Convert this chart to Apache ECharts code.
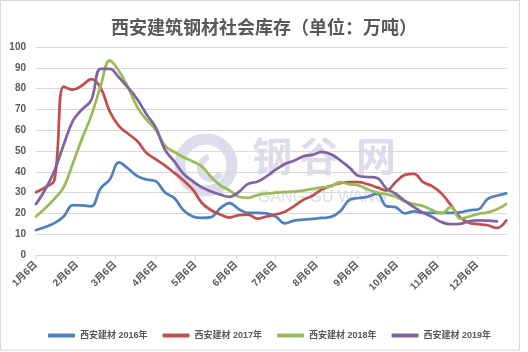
<!DOCTYPE html>
<html><head><meta charset="utf-8">
<script src="https://cdn.jsdelivr.net/npm/echarts@6/dist/echarts.min.js"></script>
<style>html,body{margin:0;padding:0;background:#fff}#c{width:528px;height:352px}</style>
</head><body><div id="c"></div>
<script>
// x positions: day of year of each weekly observation
const days = [6,13,20,27,34,41,48,55,62,69,76,83,90,97,104,111,118,125,132,139,146,153,160,167,174,181,188,195,202,209,216,223,230,237,244,251,258,265,272,279,286,293,300,307,314,321,328,335,342,349,356,363];
// tick label days and labels
const tickDays = [6,37,66,97,127,158,188,219,250,280,311,341];
const tickLabels = ['1月6日','2月6日','3月6日','4月6日','5月6日','6月6日','7月6日','8月6日','9月6日','10月6日','11月6日','12月6日'];
const seriesNames = ['西安建材 2016年','西安建材 2017年','西安建材 2018年','西安建材 2019年'];
const s2016 = [12,13.5,15.3,18.5,24,23.8,23.4,32,36.3,44.5,41.5,37.9,36.3,35.5,30,27.4,21.5,18.5,17.8,18.2,22.5,25,22,20.3,20.3,20,18.5,15.2,16.5,17,17.4,17.8,18.3,21,26.5,27.4,28,29.5,23.5,23,20,21,20.2,20.2,20.2,20.2,20.5,21.5,22,27,28.5,29.6];
const s2017 = [30.2,32.5,36,81,79.5,81.5,84.5,80.5,69,62,58.3,54.7,49,46,43,39.5,35.8,31.5,25,21.5,19.5,18,19.2,19.4,17.5,18.5,19.5,20.8,23.5,26.5,28.5,31.5,33.3,34.5,35,35,34,32.5,31,35,38.5,39,35,33,29.5,24,18,15.4,14.8,14.3,13,16.6];
const s2018 = [18.5,22.5,27,32.5,44,56,67,81,93.5,88.5,80.5,71,65,60,52.5,49.5,47,45,42.5,37.5,33.5,31,28,27.5,28.8,29.5,30,30.2,30.5,31,31.8,32.5,33,35,34,33.5,31.5,30,29.2,28,25.8,24.5,23.5,21.5,20,23,17.5,18.5,19.8,20.5,22,24.5];
const s2019 = [24.5,31.5,40.5,53,64.5,70,74.5,89.5,89.5,85.3,80.4,74.8,67.6,61.2,50.5,45,39,35.5,32.5,30.5,29,28,30.3,34.2,35.2,37.8,41,43.8,45.3,47.5,48.1,49.6,48.4,45.5,42,38,37.5,37,32,29.5,26,23,20.3,18.3,15.8,14.8,15,16.3,16.7,16.5,16.2];
const colors = ['#4F81BD','#C0504D','#9BBB59','#8064A2'];

const all = [s2016, s2017, s2018, s2019];
const FONT = 'Liberation Sans, "Noto Sans CJK SC", sans-serif';
const CJK = '"Noto Sans CJK SC", sans-serif';
const WM = '#dcdcea';
const chart = echarts.init(document.getElementById('c'), null, {renderer:'canvas'});
chart.setOption({
  animation: false,
  color: colors,
  title: {
    text: '西安建筑钢材社会库存（单位：万吨）',
    left: 'center', top: 13,
    textStyle: {fontSize: 18, fontWeight: 'bold', color: '#595959', fontFamily: CJK}
  },
  graphic: [
    {type:'rect', shape:{x:0.5,y:0.5,width:519,height:349.5}, style:{fill:'none', stroke:'#d9d9d9', lineWidth:1}, silent:true},
    {type:'circle', shape:{cx:206,cy:165,r:26}, style:{fill:'none', stroke:WM, lineWidth:11}, silent:true, z:0},
    {type:'arc', shape:{cx:211,cy:168,r:11,startAngle:0.5,endAngle:4.5}, style:{fill:'none', stroke:WM, lineWidth:6}, silent:true, z:0},
    {type:'text', left:252, top:136, style:{text:'钢', fontSize:40, fontWeight:'bold', fill:WM, fontFamily:CJK}, silent:true, z:0},
    {type:'text', left:299, top:136, style:{text:'谷', fontSize:40, fontWeight:'bold', fill:WM, fontFamily:CJK}, silent:true, z:0},
    {type:'text', left:356, top:136, style:{text:'网', fontSize:40, fontWeight:'bold', fill:WM, fontFamily:CJK}, silent:true, z:0},
    {type:'text', left:258, top:190, style:{text:'GANG GU WANG', fontSize:16, fill:WM, fontFamily:FONT}, silent:true, z:0}
  ],
  legend: {
    left: 43, top: 326, itemWidth: 27, itemHeight: 4, itemGap: 15, icon: 'roundRect',
    textStyle: {fontSize: 9, fontWeight: 'bold', color: '#595959', fontFamily: FONT},
    data: seriesNames
  },
  grid: {left: 36, right: 20.5, top: 47, bottom: 97, containLabel: false},
  xAxis: {
    type: 'value', min: 6, max: 364,
    axisLine: {show: true, lineStyle: {color: '#d9d9d9'}},
    axisTick: {show: true, customValues: tickDays, length: 4, lineStyle: {color: '#d9d9d9'}},
    axisLabel: {customValues: tickDays, rotate: 45, margin: 8, fontSize: 10, fontWeight: 'bold', color: '#595959', fontFamily: FONT,
      formatter: function(v){ const i = tickDays.indexOf(v); return i >= 0 ? tickLabels[i] : ''; }},
    splitLine: {show: false}
  },
  yAxis: {
    type: 'value', min: 0, max: 100, interval: 10,
    axisLine: {show: false}, axisTick: {show: false},
    axisLabel: {fontSize: 10, fontWeight: 'bold', color: '#595959', margin: 10, fontFamily: FONT},
    splitLine: {lineStyle: {color: '#d9d9d9'}}
  },
  series: all.map((arr, k) => ({
    name: seriesNames[k], type: 'line', smooth: 0.4, showSymbol: false, symbol: 'none',
    lineStyle: {width: 2.75, color: colors[k], cap: 'round'},
    itemStyle: {color: colors[k]},
    data: arr.map((v, i) => [days[i], v])
  }))
});
</script></body></html>
